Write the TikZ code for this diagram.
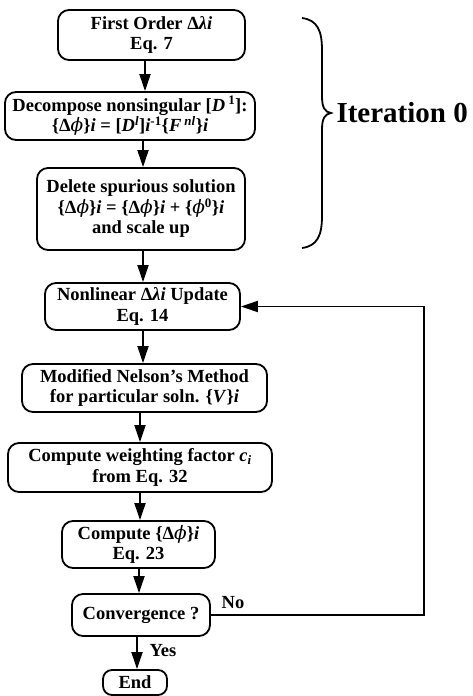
\documentclass[tikz,border=0pt]{standalone}
\usepackage{fontspec}
\setmainfont{Liberation Serif}
\newfontfamily\phifont{DejaVu Serif}
\newcommand\vphi{{\phifont\mdseries\itshape ϕ}}
\usetikzlibrary{arrows.meta}

\begin{document}
\begin{tikzpicture}[x=1pt,y=-1pt,
  box/.style={draw,line width=1.8pt,rounded corners=11pt,align=center,inner sep=0pt,
    font=\fontsize{18.5}{20.5}\selectfont\bfseries},
  arr/.style={line width=1.8pt,-{Triangle[length=17pt,width=11pt]}},
  lbl/.style={font=\fontsize{18.5}{20}\selectfont\bfseries}]

\useasboundingbox (0,0) rectangle (473,696);

%第0次迭代的三个框
\node[box,minimum width=187,minimum height=50] (first) at (151.5,35)
  {First Order Δ\textit{λi}\\Eq. 7};
\node[box,minimum width=250,minimum height=48] (decomp) at (130,116)
  {Decompose nonsingular [\textit{D}\,\textsuperscript{1}]:\\
   \{Δ\vphi\}\textit{i} = [\textit{D}\textsuperscript{\textit{l}}]\textit{i}\textsuperscript{-1}\{\textit{F}\,\textsuperscript{\textit{nl}}\}\textit{i}};
\node[box,minimum width=208,minimum height=82] (delete) at (141,209)
  {Delete spurious solution\\
   \{Δ\vphi\}\textit{i} = \{Δ\vphi\}\textit{i} + \{\vphi\textsuperscript{0}\}\textit{i}\\and scale up};

%右边的大括号
\draw[line width=1.8pt] (302,18) .. controls (317,20) and (322,30) .. (322,50)
  -- (322,96) .. controls (322,108) and (325,112) .. (331,113)
  .. controls (325,114) and (322,118) .. (322,130)
  -- (322,216) .. controls (322,236) and (317,246) .. (302,248);
\node[anchor=west,font=\fontsize{29}{30}\selectfont\bfseries] (iter) at (333,113) {Iteration 0};

%迭代循环里的框
\node[box,minimum width=195,minimum height=47] (update) at (142.5,306.5)
  {Nonlinear Δ\textit{λi} Update\\Eq. 14};
\node[box,minimum width=245,minimum height=48] (nelson) at (144.5,388)
  {Modified Nelson's Method\\for particular soln. \{\textit{V}\}\textit{i}};
\node[box,minimum width=264,minimum height=49] (weight) at (140,467.5)
  {Compute weighting factor \textit{c}\textsubscript{\textit{i}}\\from Eq. 32};
\node[box,minimum width=153,minimum height=47] (dphi) at (138.5,544.5)
  {Compute \{Δ\vphi\}\textit{i}\\Eq. 23};
\node[box,minimum width=138,minimum height=42] (conv) at (141,615)
  {Convergence ?};
\node[box,minimum width=64,minimum height=25,rounded corners=9pt] (end) at (135,682.5)
  {End};

%竖直的箭头
\foreach \a/\b/\x in {first/decomp/145,decomp/delete/143,delete/update/143,
  update/nelson/143,nelson/weight/140,weight/dphi/140,dphi/conv/139,conv/end/137}
{
  \coordinate (s) at (\x,0);
  \draw[arr] (s |- \a.south) -- (s |- \b.north);
}

%不收敛就回到上面
\coordinate (loop) at (424,0);
\draw[arr] (conv.east) -- (conv.east -| loop) -- (loop |- update.east) -- (update.east);

\node[lbl] (no) at (233,603) {No};
\node[lbl] (yes) at (163,651) {Yes};

\end{tikzpicture}
\end{document}
